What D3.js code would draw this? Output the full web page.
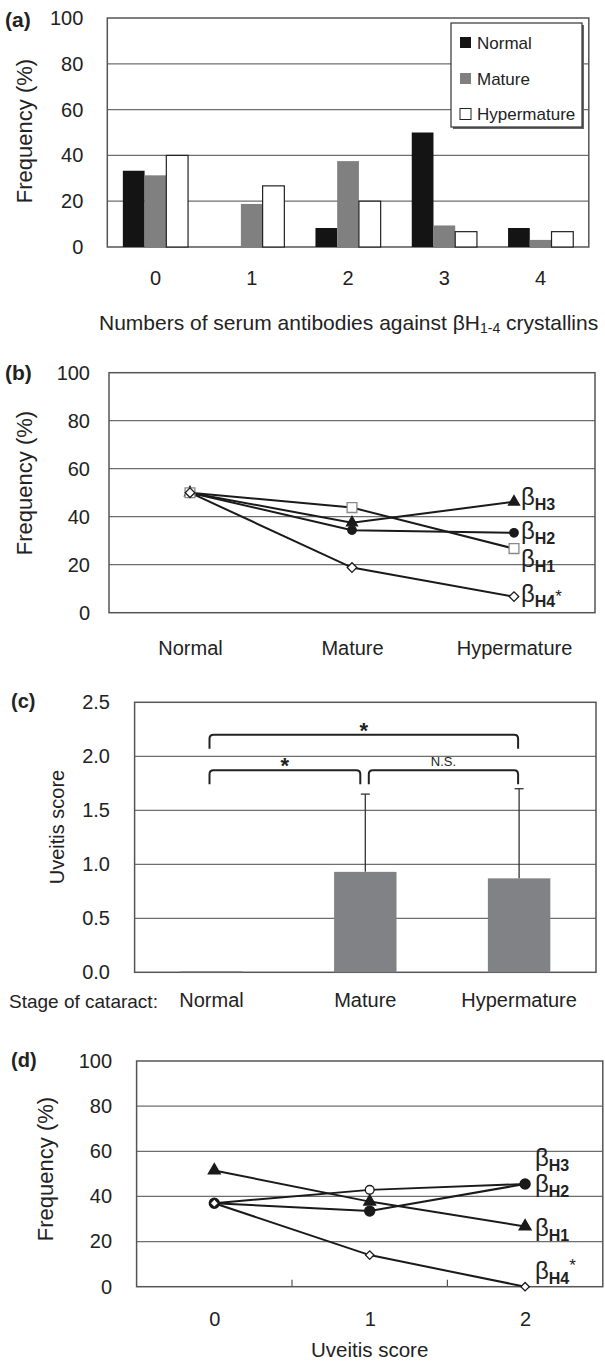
<!DOCTYPE html>
<html>
<head>
<meta charset="utf-8">
<script src="https://cdn.jsdelivr.net/npm/d3@7"></script>
<style>
  body { margin: 0; background: #fff; }
  svg { display: block; font-family: 'Liberation Sans', Arial, sans-serif; }
  text { fill: #222; }
</style>
</head>
<body>
<svg width="605" height="1361"></svg>
<script>
// (a) numbers of serum antibodies per stage of cataract
const countCats = ['0', '1', '2', '3', '4'];
const seriesNames = ['Normal', 'Mature', 'Hypermature'];
const countNormal = [33.3, 0, 8.3, 50, 8.3];
const countMature = [31.3, 18.8, 37.5, 9.4, 3.1];
const countHyper = [40, 26.7, 20, 6.7, 6.7];
const freqTicks = [0, 20, 40, 60, 80, 100];

// (b) frequency of each antibody by stage
const stageNames = ['Normal', 'Mature', 'Hypermature'];
const stageH1 = [50, 43.8, 26.7];
const stageH2 = [50, 34.4, 33.3];
const stageH3 = [50, 37.5, 46.2];
const stageH4 = [50, 18.8, 6.7];

// (c) uveitis score by stage (mean + SD)
const uveitisMean = [0, 0.93, 0.87];
const uveitisSD = [0, 0.72, 0.83];
const uveitisTicks = [0, 0.5, 1, 1.5, 2, 2.5];
// significance brackets: from stage, to stage, label
const sigFrom = [0, 0, 1];
const sigTo = [2, 1, 2];
const sigLabel = ['*', '*', 'N.S.'];
const sigLevel = [2.2, 1.87, 1.87];

// (d) frequency of each antibody by uveitis score
const scoreCats = ['0', '1', '2'];
const scoreH1 = [51.5, 37.7, 26.7];
const scoreH2 = [37, 33.5, 45.5];
const scoreH3 = [37, 42.9, 45.5];
const scoreH4 = [37, 14, 0];

const svg = d3.select('svg');
const lineCol = '#1a1a1a';

// box + horizontal grid lines
function frame(g, x0, x1, y, ticks) {
  g.selectAll('line.grid')
    .data(ticks.slice(1, -1))
    .enter().append('line')
    .attr('x1', x0).attr('x2', x1)
    .attr('y1', (d) => y(d)).attr('y2', (d) => y(d))
    .attr('stroke', '#6e6e6e').attr('stroke-width', 1.2);
  const r = y.range();
  g.append('rect')
    .attr('x', x0).attr('y', r[1])
    .attr('width', x1 - x0).attr('height', r[0] - r[1])
    .attr('fill', 'none').attr('stroke', '#555').attr('stroke-width', 1.5);
}

function leftAxis(g, x0, y, ticks, pad, fmt) {
  const ax = g.append('g')
    .attr('transform', `translate(${x0},0)`)
    .call(d3.axisLeft(y).tickValues(ticks).tickSize(0).tickPadding(pad).tickFormat(fmt));
  ax.select('.domain').remove();
  ax.selectAll('text').attr('font-size', 20).attr('fill', '#222');
}

function bottomAxis(g, y0, x, pad, fs) {
  const ax = g.append('g')
    .attr('transform', `translate(0,${y0})`)
    .call(d3.axisBottom(x).tickSize(0).tickPadding(pad));
  ax.select('.domain').remove();
  ax.selectAll('text').attr('font-size', fs).attr('fill', '#222');
}

function yTitle(g, x, y, txt, fs) {
  g.append('text')
    .attr('transform', `translate(${x},${y}) rotate(-90)`)
    .attr('text-anchor', 'middle')
    .attr('font-size', fs)
    .text(txt);
}

function panelTag(g, x, y, txt, fs) {
  g.append('text').attr('x', x).attr('y', y)
    .attr('font-size', fs).attr('font-weight', 'bold').text(txt);
}

function betaLabel(g, x, y, sub, star) {
  const t = g.append('text').attr('x', x).attr('y', y).attr('font-size', 24);
  t.append('tspan').text('β');
  t.append('tspan').attr('font-size', 16).attr('font-weight', 'bold')
    .attr('dy', 5).text(sub);
  if (star) {
    t.append('tspan').attr('font-size', 17).attr('dy', star).text('*');
  }
}

// marker shapes
const markSquare = { type: d3.symbolSquare, size: 96, fill: '#fff', stroke: '#888', rot: 0 };
const markDiamond = { type: d3.symbolSquare, size: 46, fill: '#fff', stroke: lineCol, rot: 45 };
const markCircle = { type: d3.symbolCircle, size: 56, fill: lineCol, stroke: lineCol, rot: 0 };
const markTri = { type: d3.symbolTriangle, size: 52, fill: lineCol, stroke: lineCol, rot: 0 };

function drawSeries(g, x, y, cats, vals, m, size) {
  const line = d3.line().x((d, i) => x(cats[i])).y((d) => y(d));
  g.append('path').attr('d', line(vals))
    .attr('fill', 'none').attr('stroke', lineCol).attr('stroke-width', 2);
  return () => {
    g.selectAll(null).data(vals).enter().append('path')
      .attr('d', d3.symbol().type(m.type).size(size || m.size))
      .attr('transform', (d, i) => `translate(${x(cats[i])},${y(d)}) rotate(${m.rot})`)
      .attr('fill', m.fill).attr('stroke', m.stroke).attr('stroke-width', 1.3);
  };
}

// ---------- (a) ----------
{
  const g = svg.append('g');
  const x0 = 107.3, x1 = 588.8;
  const x = d3.scaleBand().domain(countCats).range([x0, x1]).paddingInner(0.323).paddingOuter(0.1615);
  const xs = d3.scaleBand().domain(seriesNames).range([0, x.bandwidth()]);
  const y = d3.scaleLinear().domain([0, 100]).range([247, 18]);
  frame(g, x0, x1, y, freqTicks);

  const fills = ['#141414', '#808080', '#fff'];
  const sets = [countNormal, countMature, countHyper];
  sets.forEach((vals, s) => {
    g.selectAll(null).data(vals).enter().append('rect')
      .attr('x', (d, i) => x(countCats[i]) + xs(seriesNames[s]))
      .attr('y', (d) => y(d))
      .attr('width', xs.bandwidth())
      .attr('height', (d) => y(0) - y(d))
      .attr('fill', fills[s])
      .attr('stroke', s === 2 ? '#222' : 'none')
      .attr('stroke-width', 1.2);
  });

  leftAxis(g, x0, y, freqTicks, 24, d3.format('d'));
  bottomAxis(g, 247, x, 24, 20);
  yTitle(g, 32, 131, 'Frequency (%)', 22);
  panelTag(g, 5, 27, '(a)', 21);

  const xt = g.append('text').attr('x', 99).attr('y', 330).attr('font-size', 21);
  xt.append('tspan').text('Numbers of serum antibodies against βH');
  xt.append('tspan').attr('font-size', 14).attr('dy', 3).text('1-4');
  xt.append('tspan').attr('dy', -3).text(' crystallins');

  // legend
  const lg = g.append('g');
  lg.append('rect').attr('x', 453).attr('y', 25).attr('width', 131).attr('height', 104).attr('fill', '#666');
  lg.append('rect').attr('x', 451).attr('y', 23).attr('width', 131).attr('height', 104)
    .attr('fill', '#fff').attr('stroke', '#333').attr('stroke-width', 1.2);
  const rowY = [42.5, 78.5, 114];
  seriesNames.forEach((n, s) => {
    lg.append('rect').attr('x', 460).attr('y', rowY[s] - 5.5).attr('width', 11).attr('height', 11)
      .attr('fill', fills[s]).attr('stroke', s === 2 ? '#222' : 'none');
    lg.append('text').attr('x', 477).attr('y', rowY[s] + 6).attr('font-size', 17).text(n);
  });
}

// ---------- (b) ----------
{
  const g = svg.append('g');
  const x0 = 109, x1 = 595;
  const x = d3.scalePoint().domain(stageNames).range([x0, x1]).padding(0.5);
  const y = d3.scaleLinear().domain([0, 100]).range([612.7, 372.7]);
  frame(g, x0, x1, y, freqTicks);
  const m = [
    drawSeries(g, x, y, stageNames, stageH3, markTri),
    drawSeries(g, x, y, stageNames, stageH2, markCircle),
    drawSeries(g, x, y, stageNames, stageH1, markSquare),
    drawSeries(g, x, y, stageNames, stageH4, markDiamond)
  ];
  m.forEach((f) => f());
  leftAxis(g, x0, y, freqTicks, 19, d3.format('d'));
  bottomAxis(g, 612.7, x, 28, 20);
  yTitle(g, 32, 483, 'Frequency (%)', 22);
  panelTag(g, 5, 380, '(b)', 21);
  betaLabel(g, 521, 505, 'H3');
  betaLabel(g, 521, 539, 'H2');
  betaLabel(g, 521, 567, 'H1');
  betaLabel(g, 521, 602, 'H4', -5);
}

// ---------- (c) ----------
{
  const g = svg.append('g');
  const x0 = 134.6, x1 = 596;
  const x = d3.scaleBand().domain(stageNames).range([x0, x1]).paddingInner(0.594).paddingOuter(0.297);
  const y = d3.scaleLinear().domain([0, 2.5]).range([972.3, 702.3]);
  frame(g, x0, x1, y, uveitisTicks);

  g.selectAll(null).data(uveitisMean).enter().append('rect')
    .attr('x', (d, i) => x(stageNames[i]))
    .attr('y', (d) => Math.min(y(d), y(0) - 1))
    .attr('width', x.bandwidth())
    .attr('height', (d) => Math.max(y(0) - y(d), 1))
    .attr('fill', '#808285');

  const cx = (i) => x(stageNames[i]) + x.bandwidth() / 2;
  // upper error bars
  uveitisMean.forEach((mu, i) => {
    if (!uveitisSD[i]) return;
    g.append('line').attr('x1', cx(i)).attr('x2', cx(i))
      .attr('y1', y(mu)).attr('y2', y(mu + uveitisSD[i]))
      .attr('stroke', '#333').attr('stroke-width', 1.3);
    g.append('line').attr('x1', cx(i) - 4.5).attr('x2', cx(i) + 4.5)
      .attr('y1', y(mu + uveitisSD[i])).attr('y2', y(mu + uveitisSD[i]))
      .attr('stroke', '#333').attr('stroke-width', 1.3);
  });

  // significance brackets
  const legDrop = 14, rad = 4;
  sigFrom.forEach((f, k) => {
    const a = cx(f) + (f === 1 ? 3.5 : 0) - (f === 0 ? 2 : 0);
    const b = cx(sigTo[k]) - (sigTo[k] === 1 ? 4 : 0) - 1;
    const yt = y(sigLevel[k]);
    const p = d3.path();
    p.moveTo(a, yt + legDrop);
    p.lineTo(a, yt + rad);
    p.quadraticCurveTo(a, yt, a + rad, yt);
    p.lineTo(b - rad, yt);
    p.quadraticCurveTo(b, yt, b, yt + rad);
    p.lineTo(b, yt + legDrop);
    g.append('path').attr('d', p.toString())
      .attr('fill', 'none').attr('stroke', '#222').attr('stroke-width', 2);
    const isStar = sigLabel[k] === '*';
    g.append('text').attr('x', (a + b) / 2).attr('y', isStar ? yt + 3 : yt - 4)
      .attr('text-anchor', 'middle')
      .attr('font-size', isStar ? 22 : 13)
      .attr('font-weight', isStar ? 'bold' : 'normal')
      .text(sigLabel[k]);
  });

  leftAxis(g, x0, y, uveitisTicks, 24.6, d3.format('.1f'));
  bottomAxis(g, 972.3, x, 21, 20);
  g.append('text').attr('x', 9).attr('y', 1007.5).attr('font-size', 19).text('Stage of cataract:');
  yTitle(g, 64, 827, 'Uveitis score', 20);
  panelTag(g, 11, 708, '(c)', 20);
}

// ---------- (d) ----------
{
  const g = svg.append('g');
  const x0 = 136.6, x1 = 602.8;
  const x = d3.scalePoint().domain(scoreCats).range([x0, x1]).padding(0.5);
  const y = d3.scaleLinear().domain([0, 100]).range([1286.7, 1061]);
  frame(g, x0, x1, y, freqTicks);
  // inner tick marks between categories
  g.selectAll(null).data(scoreCats.slice(0, -1)).enter().append('line')
    .attr('x1', (d) => x(d) + x.step() / 2).attr('x2', (d) => x(d) + x.step() / 2)
    .attr('y1', y(0)).attr('y2', y(0) - 7)
    .attr('stroke', '#555').attr('stroke-width', 1.2);

  const openCircle = { type: d3.symbolCircle, size: 60, fill: '#fff', stroke: lineCol, rot: 0 };
  const m = [
    drawSeries(g, x, y, scoreCats, scoreH3, openCircle),
    drawSeries(g, x, y, scoreCats, scoreH1, markTri, 62),
    drawSeries(g, x, y, scoreCats, scoreH2, markCircle, 80),
    drawSeries(g, x, y, scoreCats, scoreH4, markDiamond, 36)
  ];
  m.forEach((f) => f());
  leftAxis(g, x0, y, freqTicks, 24.6, d3.format('d'));
  bottomAxis(g, 1286.7, x, 25, 20);
  g.append('text').attr('x', x('1')).attr('y', 1357).attr('text-anchor', 'middle')
    .attr('font-size', 20.5).text('Uveitis score');
  yTitle(g, 53.4, 1169, 'Frequency (%)', 22);
  panelTag(g, 11, 1067, '(d)', 20);
  betaLabel(g, 535, 1166, 'H3');
  betaLabel(g, 535, 1192, 'H2');
  betaLabel(g, 535, 1236, 'H1');
  betaLabel(g, 535, 1279, 'H4', -13);
}
</script>
</body>
</html>
